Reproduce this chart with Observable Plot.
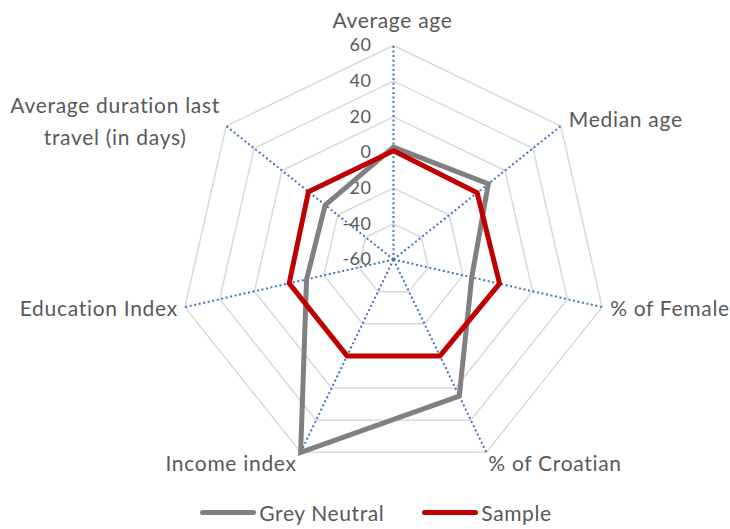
<!DOCTYPE html>
<html>
<head>
<meta charset="utf-8">
<script src="https://cdn.jsdelivr.net/npm/d3@7"></script>
<script src="https://cdn.jsdelivr.net/npm/@observablehq/plot@0.6"></script>
<style>
  html, body { margin: 0; padding: 0; background: #fff; }
  #chart { width: 730px; font-family: Lato, "Open Sans", sans-serif; }
  #chart svg text.lbl { letter-spacing: 0.7px; }
  #chart svg text.tk { letter-spacing: 0.5px; }
  .legend { display: flex; justify-content: center; align-items: center; gap: 38px; height: 34px; font-size: 21px; letter-spacing: 0.6px; color: #595959; margin-left: 22px; }
  .legend span.item { display: flex; align-items: center; }
  .legend span.sw { display: inline-block; width: 56px; height: 5px; border-radius: 3px; margin-right: 3px; }
</style>
</head>
<body>
<div id="chart"></div>
<script>
// ---- data ----
const axes = ["Average age", "Median age", "% of Female", "% of Croatian", "Income index", "Education Index", "Average duration last\ntravel (in days)"];
const greyNeutral = [3, 8, -15, 25, 60, -10, -11];
const sample = [1, 0, 1, 0, 0, 0, 1];
const ticks = [-60, -40, -20, 0, 20, 40, 60];
const seriesNames = ["Grey Neutral", "Sample"];
const seriesColors = ["#808080", "#c00000"];

// ---- layout ----
const W = 730, H = 495, CX = 393, CY = 259, R = 214;
const vmin = -60, vmax = 60;
const n = axes.length;
const ang = i => i * 2 * Math.PI / n;
const rad = v => (v - vmin) / (vmax - vmin);
const px = (v, i) => rad(v) * Math.sin(ang(i));
const py = (v, i) => rad(v) * Math.cos(ang(i));

// label placement (pixel offsets from outer vertex)
const labelStyle = [
  {dx: -1, dy: -28, anchor: "middle"},
  {dx: 8, dy: -9, anchor: "start"},
  {dx: 8, dy: -1, anchor: "start"},
  {dx: 2, dy: 8, anchor: "start"},
  {dx: -4, dy: 8, anchor: "end"},
  {dx: -7, dy: -1, anchor: "end"},
  {dx: -111, dy: -7, anchor: "middle"}
];

const rings = ticks.flatMap(t => axes.map((a, i) => ({t, x: px(t, i), y: py(t, i)})));
const spokes = axes.map((a, i) => ({x1: 0, y1: 0, x2: px(vmax, i), y2: py(vmax, i)}));
const seriesData = [greyNeutral, sample].flatMap((vals, s) =>
  vals.map((v, i) => ({series: seriesNames[s], axis: axes[i], x: px(v, i), y: py(v, i)})));

const marks = [
  Plot.line(rings, {x: "x", y: "y", z: "t", curve: "linear-closed", stroke: "#d9d9d9", strokeWidth: 1.5}),
  Plot.link(spokes, {x1: "x1", y1: "y1", x2: "x2", y2: "y2", stroke: "#4472c4", strokeWidth: 2, strokeDasharray: "2,2.6"}),
  Plot.text(ticks, {x: () => 0, y: t => rad(t), text: t => String(t), textAnchor: "end", dx: -22, fill: "#595959", fontSize: 18, className: "tk"}),
  Plot.line(seriesData, {x: "x", y: "y", z: "series", stroke: "series", curve: "linear-closed", strokeWidth: 5, strokeLinejoin: "miter", strokeMiterlimit: 4}),
  ...axes.map((a, i) => Plot.text([a], {
    x: () => px(vmax, i), y: () => py(vmax, i), text: d => d,
    dx: labelStyle[i].dx, dy: labelStyle[i].dy, textAnchor: labelStyle[i].anchor,
    lineHeight: 1.52, fill: "#595959", fontSize: 21, className: "lbl"
  }))
];

const chart = Plot.plot({
  width: W, height: H,
  margin: 0,
  style: {fontFamily: "Lato, 'Open Sans', sans-serif", background: "#fff", overflow: "visible"},
  x: {domain: [-1, 1], range: [CX - R, CX + R], axis: null},
  y: {domain: [-1, 1], range: [CY + R, CY - R], axis: null},
  color: {domain: seriesNames, range: seriesColors},
  marks
});

const root = document.getElementById("chart");
root.appendChild(chart);
chart.querySelectorAll("g.lbl text").forEach(t => t.classList.add("lbl"));
chart.querySelectorAll("g.tk text").forEach(t => t.classList.add("tk"));
const legend = document.createElement("div");
legend.className = "legend";
seriesNames.forEach((s, i) => {
  const item = document.createElement("span");
  item.className = "item";
  const sw = document.createElement("span");
  sw.className = "sw";
  sw.style.background = seriesColors[i];
  item.appendChild(sw);
  item.appendChild(document.createTextNode(s));
  legend.appendChild(item);
});
root.appendChild(legend);
</script>
</body>
</html>
